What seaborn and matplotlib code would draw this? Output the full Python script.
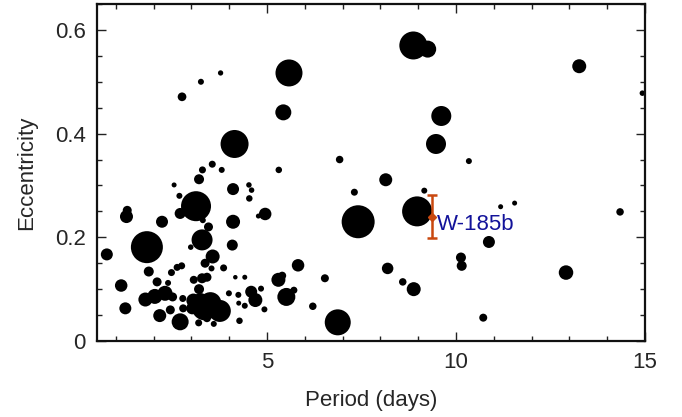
import numpy as np
import pandas as pd
import matplotlib
matplotlib.use("Agg")
import matplotlib.pyplot as plt
from matplotlib.ticker import MultipleLocator, FixedLocator, FuncFormatter
import seaborn as sns

# ---- data: orbital period (days), eccentricity, relative bubble size ----
period = [
    2.75, 3.25, 3.77, 5.58, 5.43, 4.14, 8.87, 9.25, 13.26, 14.93,
    9.61, 9.47, 6.92, 10.34, 8.14, 7.31, 9.16, 7.41, 8.97, 10.87,
    11.18, 11.55, 14.34, 10.13, 10.15, 8.19, 8.59, 8.88, 12.91, 10.72,
    6.87, 5.31, 4.95, 4.77, 4.52, 4.59, 4.53, 4.10, 4.10, 4.08,
    5.82, 5.30, 5.40, 6.53, 5.51, 5.71, 6.21, 4.16, 4.41, 4.58,
    4.69, 4.84, 4.24, 4.25, 4.41, 4.93, 4.27, 0.76, 1.28, 1.30,
    1.82, 2.22, 2.54, 2.68, 3.20, 3.29, 3.55, 3.80, 3.12, 2.70,
    3.30, 3.45, 3.28, 2.98, 3.56, 3.36, 3.53, 3.85, 1.14, 1.25,
    1.87, 1.78, 2.09, 2.03, 2.30, 2.50, 2.38, 2.16, 2.44, 2.47,
    2.62, 2.74, 2.77, 2.70, 2.78, 3.06, 3.28, 3.41, 3.99, 3.35,
    3.75, 3.05, 3.20, 3.24, 3.19, 3.59, 3.41, 3.02, 3.50,
]
eccentricity = [
    0.471, 0.500, 0.517, 0.517, 0.441, 0.380, 0.570, 0.563, 0.530, 0.478,
    0.434, 0.380, 0.350, 0.347, 0.311, 0.287, 0.290, 0.230, 0.250, 0.191,
    0.259, 0.266, 0.249, 0.161, 0.145, 0.140, 0.114, 0.100, 0.132, 0.045,
    0.036, 0.330, 0.245, 0.241, 0.301, 0.291, 0.275, 0.293, 0.230, 0.185,
    0.146, 0.118, 0.126, 0.121, 0.085, 0.098, 0.067, 0.123, 0.123, 0.095,
    0.079, 0.101, 0.089, 0.073, 0.068, 0.061, 0.039, 0.167, 0.240, 0.252,
    0.181, 0.230, 0.301, 0.280, 0.312, 0.330, 0.341, 0.330, 0.260, 0.246,
    0.233, 0.220, 0.195, 0.181, 0.163, 0.150, 0.140, 0.141, 0.107, 0.063,
    0.134, 0.080, 0.114, 0.086, 0.092, 0.085, 0.112, 0.049, 0.060, 0.132,
    0.142, 0.145, 0.082, 0.037, 0.063, 0.118, 0.121, 0.123, 0.092, 0.065,
    0.058, 0.078, 0.100, 0.076, 0.035, 0.033, 0.044, 0.063, 0.073,
]
bubble = [
    8.7, 6.0, 5.3, 27, 16, 28, 28, 17, 14, 5.5,
    20, 20, 7.5, 6.0, 13, 7.0, 6.0, 33, 30, 12,
    5.0, 5.0, 7.5, 10, 10, 11.5, 7.5, 14, 14.5, 8.0,
    26, 6.5, 12.5, 5.0, 5.5, 5.5, 6.5, 12, 14, 11,
    12.5, 14, 8.0, 8.0, 18, 7.0, 7.5, 4.5, 5.0, 12,
    14, 6.0, 6.0, 5.0, 6.0, 6.0, 6.5, 12, 13, 9.0,
    32, 12, 5.0, 6.0, 10, 7.0, 7.0, 6.0, 30, 11,
    6.0, 9.0, 21, 5.5, 14, 9.0, 6.0, 7.0, 12.5, 12,
    10, 14, 9.0, 15, 15, 9.0, 6.0, 13, 9.0, 7.0,
    7.0, 7.0, 7.0, 17, 8.0, 8.0, 10, 9.0, 6.0, 26,
    22, 14, 10, 17, 7.0, 6.0, 8.0, 12, 22,
]

# highlighted planet
target_name = "W-185b"
target_period = [9.37]
target_ecc = [0.24]
target_ecc_err = [0.041]

df = pd.DataFrame({"Period": period, "Eccentricity": eccentricity,
                   "area": np.array(bubble) ** 2})

sns.set_style("ticks")
plt.rcParams["font.family"] = ["Liberation Sans", "DejaVu Sans"]

fig = plt.figure(figsize=(6.82, 4.17), dpi=100)
ax = fig.add_axes([97 / 682, 76 / 417, 548 / 682, 337 / 417])

amax = df["area"].max()
smax = (amax ** 0.5 * 0.72) ** 2
sns.scatterplot(data=df, x="Period", y="Eccentricity", size="area",
                sizes=(0, smax), size_norm=(0, amax), color="black",
                linewidth=0, edgecolor="none", legend=False, ax=ax, zorder=2)

ax.errorbar(target_period, target_ecc, yerr=target_ecc_err, fmt="D",
            color="#c9480f", ms=4.5, elinewidth=1.8, capsize=3.5,
            capthick=1.8, zorder=3)
ax.text(target_period[0] + 0.12, 0.224, target_name, color="#12129a",
        fontsize=16, ha="left", va="center", zorder=4)

ax.set_xlim(0.5, 15)
ax.set_ylim(0, 0.65)
ax.xaxis.set_major_locator(FixedLocator([5, 10, 15]))
ax.xaxis.set_minor_locator(MultipleLocator(1))
ax.yaxis.set_major_locator(FixedLocator([0, 0.2, 0.4, 0.6]))
ax.yaxis.set_minor_locator(MultipleLocator(0.05))
ax.yaxis.set_major_formatter(FuncFormatter(lambda v, p: "0" if abs(v) < 1e-9 else f"{v:.1f}"))

ax.tick_params(which="both", direction="in", top=True, right=True,
               width=1.0, color="#222222")
ax.tick_params(which="major", length=6.5, labelsize=16, pad=8)
ax.tick_params(which="minor", length=3.5)
for s in ax.spines.values():
    s.set_linewidth(1.6)
    s.set_color("#111111")

ax.set_xlabel("Period (days)", fontsize=16, labelpad=12)
ax.set_ylabel("Eccentricity", fontsize=16, labelpad=13)

fig.savefig("out.png", dpi=100)
